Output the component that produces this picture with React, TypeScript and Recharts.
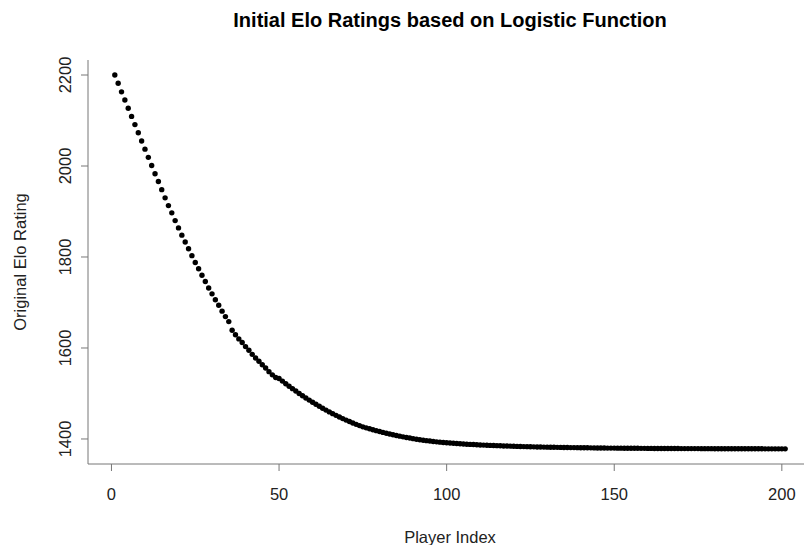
import React from 'react';
import { ScatterChart, Scatter, XAxis, YAxis } from 'recharts';

// rating for player 1..201
const ratings = [
    2200, 2182, 2163, 2145, 2127, 2109, 2091, 2073, 2055, 2037,
    2019, 2001, 1983, 1966, 1948, 1930, 1913, 1897, 1880, 1864,
    1848, 1833, 1818, 1803, 1788, 1774, 1760, 1746, 1732, 1719,
    1706, 1694, 1681, 1669, 1658, 1639, 1629, 1620, 1612, 1603,
    1595, 1586, 1578, 1571, 1563, 1556, 1548, 1541, 1535, 1533,
    1527.2, 1521.5, 1516.0, 1510.6, 1505.3, 1500.1, 1495.1, 1490.2, 1485.4, 1480.8,
    1476.3, 1471.9, 1467.6, 1463.5, 1459.5, 1455.7, 1451.9, 1448.3, 1444.8, 1441.5,
    1438.3, 1435.2, 1432.2, 1429.4, 1426.7, 1424.5, 1422.4, 1420.3, 1418.3, 1416.4,
    1414.5, 1412.7, 1411.0, 1409.3, 1407.7, 1406.2, 1404.7, 1403.3, 1402.0, 1400.7,
    1399.5, 1398.4, 1397.3, 1396.3, 1395.4, 1394.5, 1393.7, 1393.0, 1392.3, 1391.7,
    1391.1, 1390.5, 1390.0, 1389.5, 1389.0, 1388.5, 1388.1, 1387.7, 1387.3, 1386.9,
    1386.5, 1386.2, 1385.9, 1385.6, 1385.3, 1385.0, 1384.7, 1384.4, 1384.2, 1383.9,
    1383.7, 1383.5, 1383.3, 1383.1, 1382.9, 1382.7, 1382.5, 1382.3, 1382.2, 1382.0,
    1381.9, 1381.7, 1381.6, 1381.5, 1381.3, 1381.2, 1381.1, 1381.0, 1380.9, 1380.8,
    1380.7, 1380.6, 1380.5, 1380.4, 1380.3, 1380.2, 1380.1, 1380.0, 1380.0, 1379.9,
    1379.8, 1379.8, 1379.7, 1379.6, 1379.6, 1379.5, 1379.5, 1379.4, 1379.4, 1379.3,
    1379.3, 1379.2, 1379.2, 1379.1, 1379.1, 1379.1, 1379.0, 1379.0, 1379.0, 1378.9,
    1378.9, 1378.9, 1378.8, 1378.8, 1378.8, 1378.7, 1378.7, 1378.7, 1378.7, 1378.6,
    1378.6, 1378.6, 1378.6, 1378.5, 1378.5, 1378.5, 1378.5, 1378.5, 1378.4, 1378.4,
    1378.4, 1378.4, 1378.4, 1378.4, 1378.3, 1378.3, 1378.3, 1378.3, 1378.3, 1378.3,
    1378.3
];
const xTicks = [0, 50, 100, 150, 200];
const yTicks = [1400, 1600, 1800, 2000, 2200];
const xDomain = [-7, 209];
const yDomain = [1345, 2233];

const data = ratings.map((r, i) => ({ player: i + 1, rating: r }));

const font = '"Liberation Sans", Arial, Helvetica, sans-serif';
const boxColor = '#777';

const Dot = (p: any) => <circle cx={p.cx} cy={p.cy} r={2.7} fill="#000" />;

const YTick = (p: any) => (
    <text x={p.x} y={p.y} transform={`rotate(-90, ${p.x}, ${p.y})`} textAnchor="middle"
        fontFamily={font} fontSize={16.5} fill="#222">
        {p.payload.value}
    </text>
);

export default function App() {
    return (
        <div style={{ position: 'absolute', left: 0, top: 0, width: 804, height: 545, overflow: 'hidden', background: '#fff' }}>
            <ScatterChart width={830} height={545} margin={{ top: 60, right: 18, bottom: 21, left: 28 }}>
                <XAxis type="number" dataKey="player" domain={xDomain} ticks={xTicks} height={60}
                    stroke={boxColor} tickSize={7} tickMargin={17} interval={0}
                    tick={{ fontFamily: font, fontSize: 16.5, fill: '#222' }} />
                <XAxis xAxisId="top" type="number" orientation="top" domain={xDomain} height={0}
                    stroke={boxColor} tick={false} tickLine={false} />
                <YAxis type="number" dataKey="rating" domain={yDomain} ticks={yTicks} width={60}
                    stroke={boxColor} tickSize={7} tickMargin={10} interval={0} tick={<YTick />} />
                <Scatter data={data} dataKey="rating" shape={<Dot />} isAnimationActive={false} />
            </ScatterChart>
            <svg width={804} height={545} style={{ position: 'absolute', left: 0, top: 0, pointerEvents: 'none' }}>
                <text x={450} y={27} textAnchor="middle" fontFamily={font} fontSize={20} fontWeight="bold" fill="#000">
                    Initial Elo Ratings based on Logistic Function
                </text>
                <text x={450} y={543} textAnchor="middle" fontFamily={font} fontSize={16.5} fill="#222">
                    Player Index
                </text>
                <text x={26} y={262} transform="rotate(-90, 26, 262)" textAnchor="middle" fontFamily={font} fontSize={16.5} fill="#222">
                    Original Elo Rating
                </text>
            </svg>
        </div>
    );
}
